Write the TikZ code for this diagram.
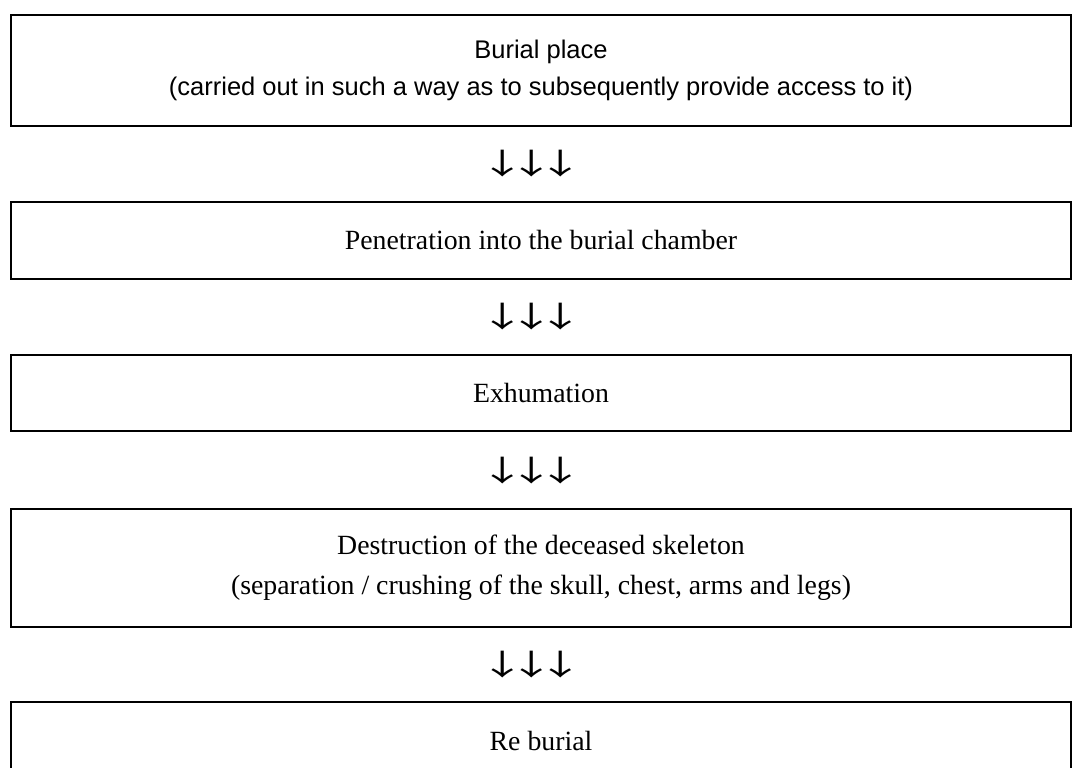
\documentclass[tikz,border=0pt]{standalone}
\usepackage{fontspec}
\usepackage{graphicx}
\setmainfont{Liberation Serif}
\newfontfamily\headfont{Liberation Sans}
\newfontfamily\arrowfont{Noto Sans CJK JP}
\usetikzlibrary{positioning}
% one wide down arrow glyph, set in a full-width cell
\newcommand{\widedown}{\makebox[14.5pt]{\scalebox{1.6}[1]{↓}}}

\begin{document}
\begin{tikzpicture}[node distance=37pt,
  stepbox/.style={draw, rectangle, line width=1pt, minimum width=530pt, inner sep=0pt, align=center, font=\fontsize{13.9}{20}\selectfont},
  arrowtxt/.style={inner sep=0pt, font=\arrowfont\fontsize{14.5}{16}\selectfont, xshift=-4.75pt}]
\useasboundingbox (0,0) rectangle (537.5pt,-383.5pt);
\clip (0,0) rectangle (537.5pt,-383.5pt);
% Steps of the sequence, from top to bottom
\node (burial) [stepbox, minimum height=55.5pt, font=\headfont\fontsize{12.75}{18.75}\selectfont] at (270.5pt,-35.1pt) {Burial place\\(carried out in such a way as to subsequently provide access to it)};
\node (penetration) [stepbox, minimum height=38.4pt, below=of burial] {Penetration into the burial chamber};
\node (exhumation) [stepbox, minimum height=38.4pt, below=of penetration] {Exhumation};
\node (destruction) [stepbox, minimum height=58.7pt, below=38pt of exhumation] {Destruction of the deceased skeleton\\(separation / crushing of the skull, chest, arms and legs)};
\node (reburial) [stepbox, minimum height=38.4pt, below=36.7pt of destruction] {Re burial};

% Triple arrows between the steps
\path (burial.south) -- (penetration.north) node[arrowtxt, midway] (arrA) {\widedown\widedown\widedown};
\path (penetration.south) -- (exhumation.north) node[arrowtxt, midway] (arrB) {\widedown\widedown\widedown};
\path (exhumation.south) -- (destruction.north) node[arrowtxt, midway] (arrC) {\widedown\widedown\widedown};
\path (destruction.south) -- (reburial.north) node[arrowtxt, midway] (arrD) {\widedown\widedown\widedown};
\end{tikzpicture}
\end{document}
